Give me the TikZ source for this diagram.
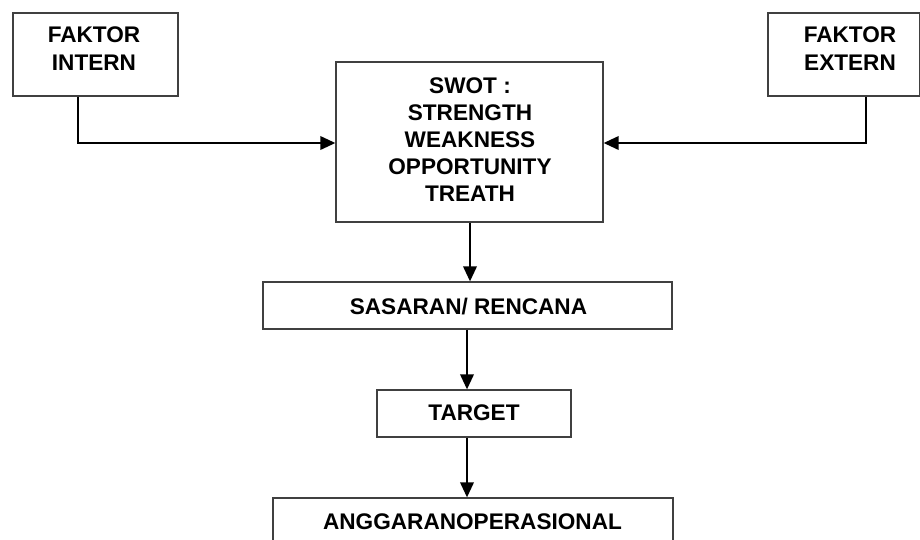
\documentclass[tikz,border=0pt]{standalone}
\usepackage{fontspec}
\setmainfont{Liberation Sans}
\usetikzlibrary{arrows.meta}
\definecolor{edge}{HTML}{404040}
\begin{document}
\begin{tikzpicture}[x=1pt,y=-1pt,
  box/.style={draw=edge,line width=1.3pt,rectangle,inner sep=0pt,fill=white},
  lbl/.style={font=\bfseries\fontsize{22.6}{28}\selectfont,align=center,inner sep=0pt,anchor=north},
  lbltight/.style={lbl,font=\bfseries\fontsize{22.6}{27}\selectfont},
  link/.style={line width=2pt,-{Triangle[length=15pt,width=13.5pt]}}]
  \useasboundingbox (0,0) rectangle (920,539);
  \clip (0,0) rectangle (920,539);

  % boxes
  \node[box,minimum width=165pt,minimum height=83pt] (intern) at (95.5,54.5) {};
  \node[box,minimum width=152pt,minimum height=83pt] (extern) at (844,54.5) {};
  \node[box,minimum width=267pt,minimum height=160pt] (swot) at (469.5,142) {};
  \node[box,minimum width=409pt,minimum height=47pt] (sasaran) at (467.5,305.5) {};
  \node[box,minimum width=194pt,minimum height=47pt] (target) at (474,413.5) {};
  \node[box,minimum width=400pt,minimum height=80pt] (anggaran) at (473,538) {};

  % texts
  \node[lbl] (intern-t) at (94,27) {FAKTOR\\INTERN};
  \node[lbl] (extern-t) at (850,27) {FAKTOR\\EXTERN};
  \node[lbltight] (swot-t) at (470,78) {SWOT :\\STRENGTH\\WEAKNESS\\OPPORTUNITY\\TREATH};
  \node[lbl] (sasaran-t) at (468.5,298) {SASARAN/ RENCANA};
  \node[lbl] (target-t) at (474,404.5) {TARGET};
  \node[lbl] (anggaran-t) at (472.5,514) {ANGGARANOPERASIONAL};

  % connectors
  \draw[link] (intern.south -| 78,0) |- (swot.west |- 0,143);
  \draw[link] (extern.south -| 866,0) |- (swot.east |- 0,143);
  \draw[link] (swot.south -| 470,0) -- (sasaran.north -| 470,0);
  \draw[link] (sasaran.south -| 467,0) -- (target.north -| 467,0);
  \draw[link] (target.south -| 467,0) -- (anggaran.north -| 467,0);
\end{tikzpicture}
\end{document}
